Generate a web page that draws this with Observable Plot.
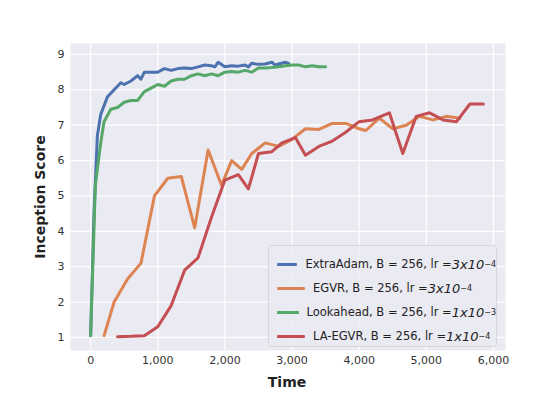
<!DOCTYPE html>
<html><head><meta charset="utf-8">
<script src="https://cdn.jsdelivr.net/npm/d3@7"></script>
<script src="https://cdn.jsdelivr.net/npm/@observablehq/plot@0.6"></script>
<style>
body{margin:0;background:#fff;font-family:"DejaVu Sans",sans-serif}
#wrap{position:relative;width:560px;height:400px}
.leg{position:absolute;left:268px;top:245px;width:229px;height:102px;box-sizing:border-box;border:1px solid #d6d6dc;border-radius:3px;background:rgba(234,234,242,0.85);font-size:11.5px;color:#222;padding:6px 0 0 8px}
.leg div{height:24px;display:flex;align-items:center;white-space:nowrap}
.leg i{display:inline-block;width:28px;height:3px;margin-right:8px;border-radius:1px}
.leg sup{font-size:8px}
.leg em{font-size:13px;font-style:italic}
</style></head><body>
<div id="wrap"></div>
<script>
const extraT = [0,50,100,150,250,350,450,500,600,700,750,800,900,1000,1100,1200,1300,1400,1500,1600,1700,1800,1850,1900,2000,2100,2200,2300,2350,2400,2500,2600,2700,2750,2800,2900,2950];
const extraV = [1.05,4.5,6.7,7.3,7.8,8.0,8.2,8.15,8.25,8.4,8.3,8.5,8.5,8.5,8.6,8.55,8.6,8.62,8.6,8.65,8.7,8.68,8.65,8.78,8.65,8.68,8.67,8.7,8.65,8.75,8.72,8.73,8.78,8.7,8.73,8.78,8.75];
const lookT = [0,70,150,200,300,400,500,600,700,800,900,1000,1100,1200,1300,1400,1500,1600,1700,1800,1900,2000,2100,2200,2300,2400,2500,2600,2700,2800,2900,3000,3100,3200,3300,3400,3500];
const lookV = [1.05,5.3,6.5,7.1,7.45,7.5,7.65,7.7,7.7,7.95,8.05,8.15,8.1,8.25,8.3,8.3,8.4,8.45,8.4,8.45,8.4,8.5,8.52,8.5,8.55,8.5,8.62,8.62,8.63,8.65,8.68,8.7,8.7,8.65,8.68,8.65,8.65];
const egvrT = [200,350,550,750,950,1150,1350,1550,1750,1950,2100,2250,2400,2600,2800,3000,3200,3400,3600,3800,4000,4100,4300,4500,4700,4900,5100,5300,5500];
const egvrV = [1.05,2.0,2.65,3.1,5.0,5.5,5.55,4.1,6.3,5.3,6.0,5.75,6.2,6.5,6.4,6.6,6.9,6.88,7.05,7.05,6.9,6.85,7.2,6.9,7.0,7.25,7.15,7.25,7.2];
const laT = [400,600,800,1000,1200,1400,1600,1800,2000,2200,2350,2500,2700,2850,3050,3200,3400,3600,3800,4000,4200,4450,4650,4850,5050,5250,5450,5650,5850];
const laV = [1.02,1.03,1.05,1.3,1.9,2.9,3.25,4.4,5.45,5.6,5.2,6.2,6.25,6.5,6.65,6.15,6.4,6.55,6.8,7.1,7.15,7.35,6.2,7.25,7.35,7.15,7.1,7.6,7.6];
const colors = ["#4c72b0","#dd8452","#55a868","#c44e52"];

const series = [[extraT,extraV],[egvrT,egvrV],[lookT,lookV],[laT,laV]];
const rows = series.flatMap(([t,v],k) => t.map((x,i) => ({t:x, v:v[i], k})));

const chart = Plot.plot({
  width:560, height:400,
  marginLeft:70, marginRight:55, marginTop:43, marginBottom:50,
  style:{fontFamily:"DejaVu Sans, sans-serif", fontSize:"11px", color:"#333"},
  x:{domain:[-300,6180], ticks:[0,1000,2000,3000,4000,5000,6000], tickSize:0, label:null},
  y:{domain:[0.63,9.31], ticks:[1,2,3,4,5,6,7,8,9], tickSize:0, label:null},
  marks:[
    Plot.frame({fill:"#eaeaf2", stroke:null}),
    Plot.gridX({stroke:"white", strokeOpacity:1, strokeWidth:1.2}),
    Plot.gridY({stroke:"white", strokeOpacity:1, strokeWidth:1.2}),
    ...[0,2,1,3].map(k => Plot.line(rows.filter(d => d.k===k), {x:"t", y:"v", stroke:colors[k], strokeWidth:3})),
    Plot.axisX({tickSize:0, tickPadding:6, label:null}),
    Plot.axisY({tickSize:0, tickPadding:6, label:null})
  ]
});
const wrap = document.getElementById("wrap");
wrap.appendChild(chart);
const svg = d3.select(chart);
svg.append("text").attr("x",287).attr("y",387).attr("text-anchor","middle").attr("font-size",14).attr("font-weight","bold").attr("fill","#222").text("Time");
svg.append("text").attr("transform","translate(45,197) rotate(-90)").attr("text-anchor","middle").attr("font-size",14).attr("font-weight","bold").attr("fill","#222").text("Inception Score");

const labels = [
  ["ExtraAdam, B = 256,  lr = ","3x10","−4"],
  ["EGVR, B = 256,  lr = ","3x10","−4"],
  ["Lookahead, B = 256,  lr = ","1x10","−3"],
  ["LA-EGVR, B = 256,  lr =","1x10","−4"]
];
const leg = document.createElement("div");
leg.className = "leg";
leg.innerHTML = labels.map((l,i) => `<div><i style="background:${colors[i]}"></i>${l[0]}<em>${l[1]}</em><sup>${l[2]}</sup></div>`).join("");
wrap.appendChild(leg);
</script>
</body></html>
